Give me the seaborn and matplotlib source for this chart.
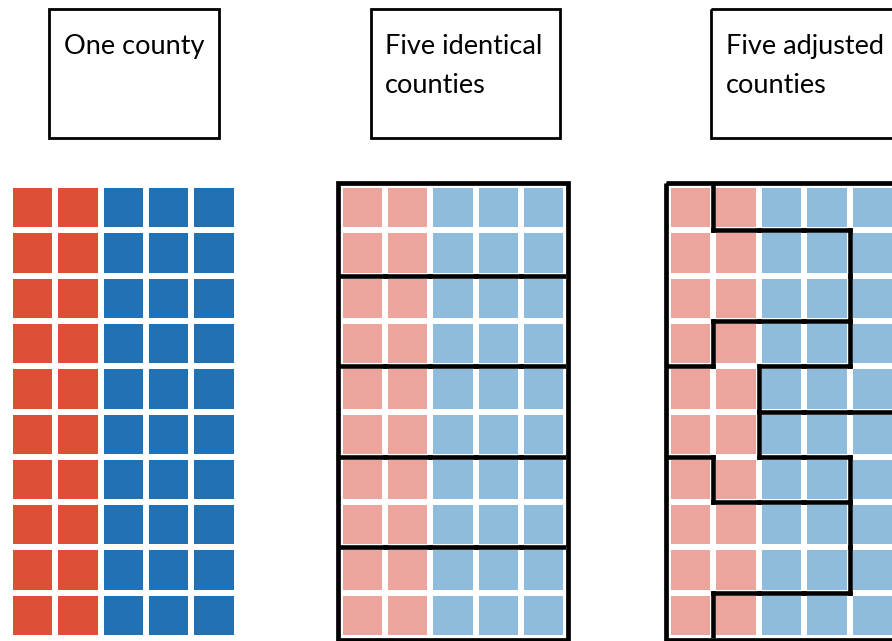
"""Redistricting sketch: one county vs. five identical vs. five adjusted counties."""

import matplotlib

matplotlib.use("Agg")
import matplotlib.pyplot as plt  # noqa: E402
import numpy as np
import pandas as pd
import seaborn as sns
from matplotlib.collections import LineCollection
from matplotlib.colors import ListedColormap
from matplotlib.patches import Rectangle

# One letter per voter, top row first (R = red, B = blue).
voters = [
    "RRBBB",
    "RRBBB",
    "RRBBB",
    "RRBBB",
    "RRBBB",
    "RRBBB",
    "RRBBB",
    "RRBBB",
    "RRBBB",
    "RRBBB",
]

# County each voter belongs to in the two split panels.
identical_counties = [
    "AAAAA",
    "AAAAA",
    "BBBBB",
    "BBBBB",
    "CCCCC",
    "CCCCC",
    "DDDDD",
    "DDDDD",
    "EEEEE",
    "EEEEE",
]
adjusted_counties = [
    "ABBBB",
    "AAAAB",
    "AAAAB",
    "ACCCB",
    "CCBBB",
    "CCEEE",
    "DCCCE",
    "DDDDE",
    "DDDDE",
    "DEEEE",
]

panel_titles = ["One county", "Five identical\ncounties", "Five adjusted\ncounties"]
party_order = ["R", "B"]
strong_colors = ["#dd4f37", "#2171b5"]
pale_colors = ["#eca59c", "#8fbbdd"]

W, H = 892, 641


def _px_axes(fig, x, y, w, h):
    # pixel box (top-left origin) -> figure axes
    return fig.add_axes([x / W, 1 - (y + h) / H, w / W, h / H])


def _county_edges(counties):
    grid = np.array([list(r) for r in counties])
    n_rows, n_cols = grid.shape
    segs = []
    for r in range(n_rows):
        for c in range(n_cols):
            if c + 1 < n_cols and grid[r, c] != grid[r, c + 1]:
                segs.append([(c + 1, r), (c + 1, r + 1)])
            if r + 1 < n_rows and grid[r, c] != grid[r + 1, c]:
                segs.append([(c, r + 1), (c + 1, r + 1)])
    return segs


def _draw_grid(ax, colors, counties=None):
    df = pd.DataFrame([[party_order.index(v) for v in row] for row in voters])
    sns.heatmap(
        df,
        ax=ax,
        cmap=ListedColormap(colors),
        vmin=0,
        vmax=1,
        cbar=False,
        linewidths=3.1,
        linecolor="white",
        xticklabels=False,
        yticklabels=False,
    )
    ax.set_xlabel("")
    ax.set_ylabel("")
    if counties is None:
        return
    n_rows, n_cols = df.shape
    lc = LineCollection(_county_edges(counties), colors="black", linewidths=3.3)
    lc.set_capstyle("projecting")
    ax.add_collection(lc)
    pad = 0.045
    ax.add_patch(
        Rectangle(
            (-pad, -pad),
            n_cols + 2 * pad,
            n_rows + 2 * pad,
            fill=False,
            ec="black",
            lw=3.4,
            joinstyle="miter",
            clip_on=False,
        )
    )


sns.set_theme(style="white")
plt.rcParams["font.family"] = ["Lato", "DejaVu Sans"]

fig = plt.figure(figsize=(W / 100, H / 100), dpi=100)

# title boxes in pixel coordinates
bg = fig.add_axes([0, 0, 1, 1])
bg.set_xlim(0, W)
bg.set_ylim(H, 0)
bg.axis("off")
boxes = [(49, 9, 170, 129), (371, 9, 189, 129), (711, 9, 260, 129)]
text_x = [64, 385, 726]
for (bx, by, bw, bh), tx, title in zip(boxes, text_x, panel_titles):
    bg.add_patch(Rectangle((bx, by), bw, bh, fill=False, ec="black", lw=2.0, clip_on=False))
    for i, line in enumerate(title.split("\n")):
        bg.text(tx, 54 + i * 39, line, fontsize=19.5, color="black", ha="left", va="baseline")

_draw_grid(_px_axes(fig, 9.8, 185, 227, 453), strong_colors)
_draw_grid(_px_axes(fig, 340, 185, 226, 453), pale_colors, identical_counties)
_draw_grid(_px_axes(fig, 668, 185, 227, 453), pale_colors, adjusted_counties)

fig.savefig("out.png", dpi=100)
plt.close(fig)
